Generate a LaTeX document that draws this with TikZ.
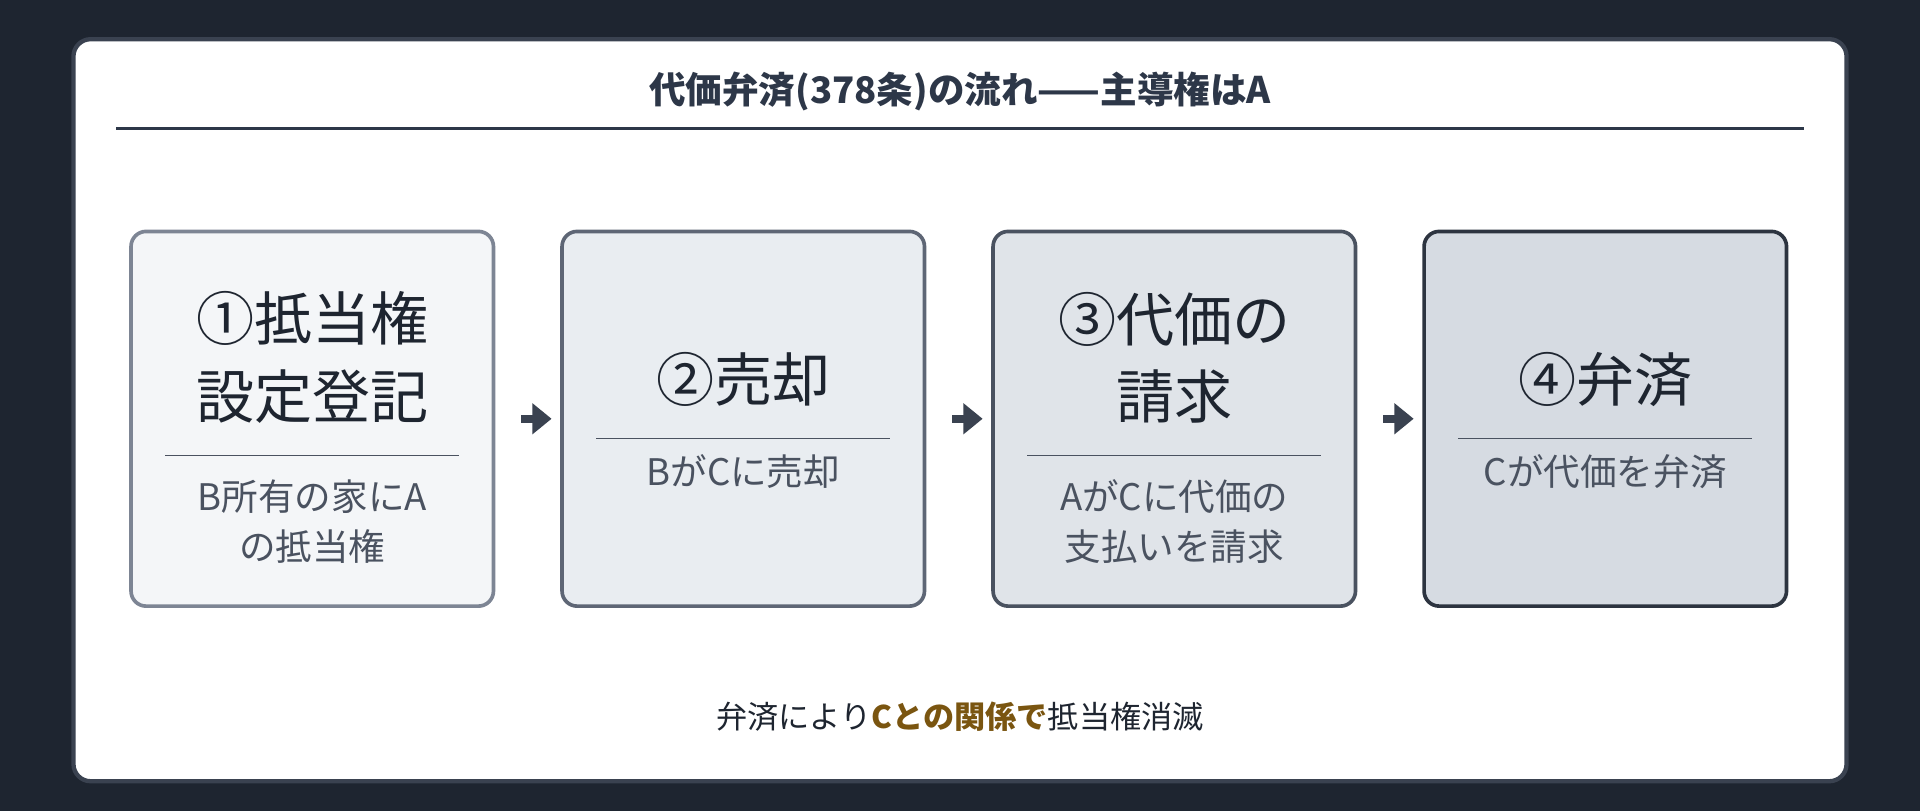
\documentclass[tikz,border=0pt]{standalone}
\usepackage{fontspec}
\setmainfont{Noto Sans CJK JP}
\usetikzlibrary{arrows.meta, positioning}
\definecolor{bgdark}{HTML}{1E2530}
\definecolor{cardedge}{HTML}{3A4250}
\definecolor{titlecol}{HTML}{2D3748}
\definecolor{subcol}{HTML}{4A5260}
\definecolor{accent}{HTML}{7A5510}
\definecolor{fillA}{HTML}{F4F6F8}
\definecolor{fillB}{HTML}{E9EDF1}
\definecolor{fillC}{HTML}{E0E4E9}
\definecolor{fillD}{HTML}{D6DBE2}
\definecolor{edgeA}{HTML}{7D8594}
\definecolor{edgeB}{HTML}{5E6675}
\definecolor{edgeC}{HTML}{4A5260}
\definecolor{edgeD}{HTML}{2D3440}
\tikzset{
    stage/.style={draw, line width=1.7pt, rounded corners=7pt, minimum width=296*0.02cm, minimum height=306*0.02cm},
    big/.style={font=\fontsize{27}{36}\selectfont, text=bgdark, align=center},
    small/.style={font=\fontsize{17}{23}\selectfont, text=subcol, align=center},
    rule/.style={draw=subcol, line width=0.6pt},
    flow/.style={-{Triangle[length=9pt,width=14pt]}, line width=3.5pt, draw=cardedge, shorten >=4pt, shorten <=12pt}
}
\begin{document}
\begin{tikzpicture}[x=0.02cm, y=-0.02cm]
        \useasboundingbox[fill=bgdark] (0,0) rectangle (1568,662);
        \draw[fill=white, draw=cardedge, line width=2pt, rounded corners=8pt] (60,32) rectangle (1508,638);
        \node[font=\bfseries\fontsize{17}{20}\selectfont, text=titlecol] (title) at (784,75) {代価弁済(378条)の流れ——主導権はA};
        \draw[draw=titlecol, line width=1pt] (95,105) -- (1473,105);
        % stages
        \node[stage, fill=fillA, draw=edgeA] (b1) at (255,342) {};
        \node[stage, fill=fillB, draw=edgeB] (b2) at (607,342) {};
        \node[stage, fill=fillC, draw=edgeC] (b3) at (959,342) {};
        \node[stage, fill=fillD, draw=edgeD] (b4) at (1311,342) {};
        \node[big] (t1) at (255,292) {①抵当権\\設定登記};
        \draw[rule] (135,372) -- (375,372);
        \node[small] (s1) at (255,426) {B所有の家にA\\の抵当権};
        \node[big] (t2) at (607,310) {②売却};
        \draw[rule] (487,358) -- (727,358);
        \node[small] (s2) at (607,385) {BがCに売却};
        \node[big] (t3) at (959,292) {③代価の\\請求};
        \draw[rule] (839,372) -- (1079,372);
        \node[small] (s3) at (959,426) {AがCに代価の\\支払いを請求};
        \node[big] (t4) at (1311,310) {④弁済};
        \draw[rule] (1191,358) -- (1431,358);
        \node[small] (s4) at (1311,385) {Cが代価を弁済};
        \draw[flow] (b1) -- (b2);
        \draw[flow] (b2) -- (b3);
        \draw[flow] (b3) -- (b4);
        \node[font=\fontsize{14.5}{18}\selectfont, text=bgdark] (note) at (784,585) {弁済により\textcolor{accent}{\bfseries Cとの関係で}抵当権消滅};
\end{tikzpicture}
\end{document}
